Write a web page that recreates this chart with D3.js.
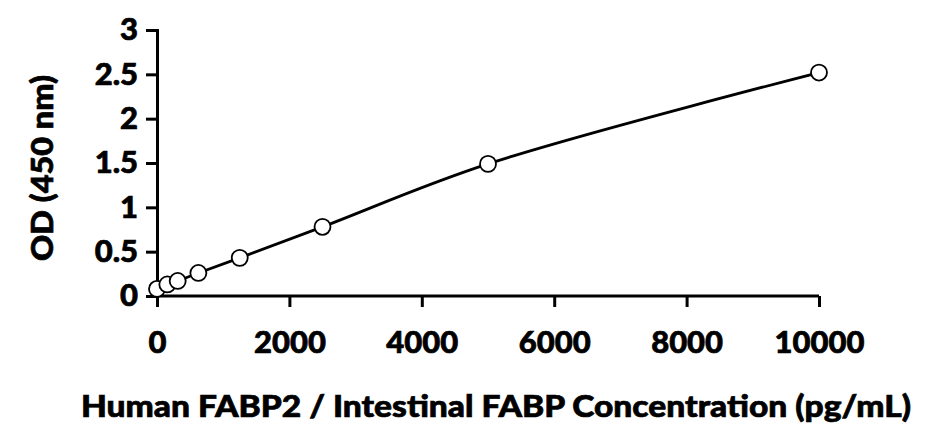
<!DOCTYPE html>
<html><head><meta charset="utf-8">
<script src="https://cdn.jsdelivr.net/npm/d3@7"></script>
<style>body{margin:0;background:#fff}svg{display:block}text{font-family:Lato,"Open Sans",sans-serif;font-weight:900;fill:#000;stroke:#000;stroke-width:0.7px}</style>
</head><body>
<script>
const concentrations = [0, 156.25, 312.5, 625, 1250, 2500, 5000, 10000];
const odValues = [0.08, 0.13, 0.17, 0.26, 0.43, 0.78, 1.49, 2.52];
const xTicks = [0, 2000, 4000, 6000, 8000, 10000];
const yTicks = [0, 0.5, 1, 1.5, 2, 2.5, 3];
const xTitle = "Human FABP2 / Intestinal FABP Concentration (pg/mL)";
const yTitle = "OD (450 nm)";

const W = 926, H = 438;
const svg = d3.select("body").append("svg").attr("width", W).attr("height", H);
const x = d3.scaleLinear().domain([0, 10000]).range([157, 819]);
const y = d3.scaleLinear().domain([0, 3]).range([296, 30]);

const xAxis = svg.append("g").attr("transform", "translate(0,296)")
  .call(d3.axisBottom(x).tickValues(xTicks).tickSize(11).tickPadding(24).tickFormat(d3.format("d")));
const yAxis = svg.append("g").attr("transform", "translate(157,0)")
  .call(d3.axisLeft(y).tickValues(yTicks).tickSize(11).tickPadding(8).tickFormat(d => String(d)));
[xAxis, yAxis].forEach(g => {
  g.select(".domain").attr("stroke", "#000").attr("stroke-width", 3);
  g.selectAll(".tick line").attr("stroke", "#000").attr("stroke-width", 3);
  g.selectAll(".tick text").style("font-size", "31px").attr("fill", "#000");
});
xAxis.select(".domain").attr("d", `M${x(0)},0V0H${x(10000)}`);

const pts = concentrations.map((c, i) => [c, odValues[i]]);
svg.append("path").datum(pts)
  .attr("fill", "none").attr("stroke", "#000").attr("stroke-width", 2.8)
  .attr("d", d3.line().x(d => x(d[0])).y(d => y(d[1])).curve(d3.curveCatmullRom.alpha(0.5)));
svg.append("g").selectAll("circle").data(pts).join("circle")
  .attr("cx", d => x(d[0])).attr("cy", d => y(d[1])).attr("r", 8)
  .attr("fill", "#fff").attr("stroke", "#000").attr("stroke-width", 1.8);

svg.append("text").attr("x", 496).attr("y", 417).attr("text-anchor", "middle")
  .attr("textLength", 830).attr("lengthAdjust", "spacingAndGlyphs")
  .style("font-size", "31px").text(xTitle);
svg.append("text").attr("transform", "translate(53,168) rotate(-90)").attr("text-anchor", "middle")
  .attr("textLength", 186).attr("lengthAdjust", "spacingAndGlyphs")
  .style("font-size", "31px").text(yTitle);
</script>
</body></html>
